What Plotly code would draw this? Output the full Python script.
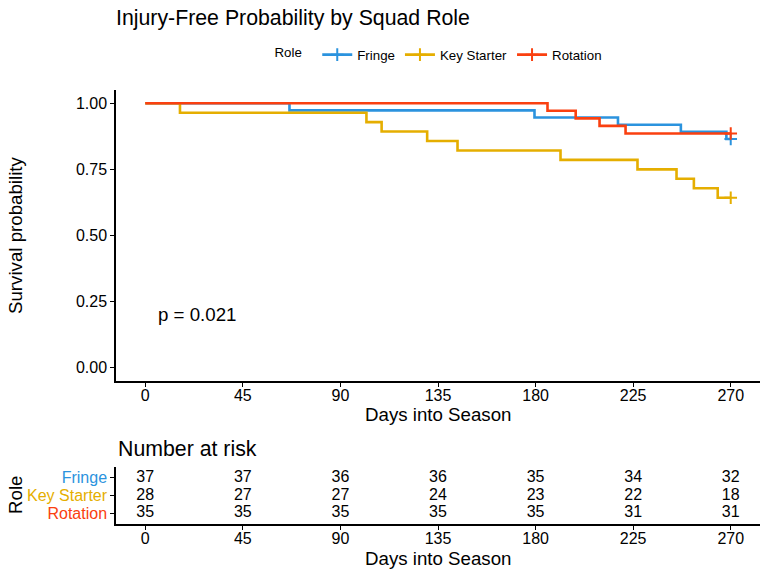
import plotly.graph_objects as go

# ---------------- data ----------------
groups = ["Fringe", "Key Starter", "Rotation"]
colors = ["#2B93DE", "#E5AE00", "#FA4010"]
n_start = [37, 28, 35]
event_times = [
    [66.5, 179.5, 218, 247, 268],
    [16, 102, 109, 130, 144, 191.5, 227, 245, 253, 264],
    [185.5, 198.5, 209.5, 221.5],
]
end_time = 270
risk_times = [0, 45, 90, 135, 180, 225, 270]
risk_counts = [
    [37, 37, 36, 36, 35, 34, 32],
    [28, 27, 27, 24, 23, 22, 18],
    [35, 35, 35, 35, 35, 31, 31],
]
p_text = "p = 0.021"

FONT = "Liberation Sans, Arial, sans-serif"
W, H = 768, 576

def px_x(p):
    return p / W

def px_y(p):
    return 1 - p / H

fig = go.Figure()

# KM step curves
for g, col, n, ev in zip(groups, colors, n_start, event_times):
    xs, ys = [0], [1.0]
    s = 1.0
    at_risk = n
    for t in ev:
        s *= (at_risk - 1) / at_risk
        at_risk -= 1
        xs.append(t)
        ys.append(s)
    xs.append(end_time)
    ys.append(s)
    fig.add_trace(go.Scatter(x=xs, y=ys, mode="lines", line=dict(color=col, width=2.6, shape="hv"),
                             showlegend=False, legendgroup=g, hoverinfo="skip",
                             xaxis="x", yaxis="y"))
    fig.add_trace(go.Scatter(x=[end_time], y=[s], mode="lines+markers", name=g, legendgroup=g,
                             line=dict(color=col, width=2.6),
                             marker=dict(symbol="cross-thin", size=9, color=col,
                                         line=dict(color=col, width=2)),
                             xaxis="x", yaxis="y"))

# risk table
row_y = {"Fringe": 2, "Key Starter": 1, "Rotation": 0}
for g, counts in zip(groups, risk_counts):
    fig.add_trace(go.Scatter(x=risk_times, y=[row_y[g]] * len(risk_times), mode="text",
                             text=[str(c) for c in counts], textposition="middle center",
                             textfont=dict(size=16, color="black", family=FONT),
                             showlegend=False, hoverinfo="skip", xaxis="x2", yaxis="y2"))

axis_common = dict(showgrid=False, zeroline=False, showline=True, linecolor="black", linewidth=1.5,
                   ticks="outside", ticklen=4, tickcolor="black", tickwidth=1.2,
                   tickfont=dict(size=16, color="black", family=FONT), automargin=False)

fig.update_layout(
    width=W, height=H,
    margin=dict(l=0, r=0, t=0, b=0),
    paper_bgcolor="white", plot_bgcolor="white",
    font=dict(family=FONT, color="black"),
    xaxis=dict(domain=[px_x(116), px_x(760)], range=[-13.5, 283.5], anchor="y",
               tickvals=risk_times, ticklabelstandoff=-5, **axis_common),
    yaxis=dict(domain=[px_y(381), px_y(90)], range=[-0.05, 1.05], anchor="x",
               tickvals=[0, 0.25, 0.5, 0.75, 1.0], ticktext=["0.00", "0.25", "0.50", "0.75", "1.00"],
               **axis_common),
    xaxis2=dict(domain=[px_x(116), px_x(760)], range=[-13.5, 283.5], anchor="y2",
                tickvals=risk_times, ticklabelstandoff=-5, **axis_common),
    yaxis2=dict(domain=[px_y(524), px_y(467)], range=[-0.6, 2.6], anchor="x2",
                tickvals=[2, 1, 0],
                ticktext=['<span style="color:%s">%s</span>' % (c, g) for g, c in zip(groups, colors)],
                **axis_common),
    legend=dict(orientation="h", x=px_x(440), xanchor="center", y=px_y(55), yanchor="middle",
                title=dict(text="Role  ", font=dict(size=13.3, family=FONT, color="black"), side="left"),
                font=dict(size=13.3, family=FONT, color="black"), itemwidth=30,
                bgcolor="rgba(0,0,0,0)"),
    title=dict(text="Injury-Free Probability by Squad Role", x=px_x(116), xanchor="left",
               y=px_y(18), yanchor="middle", xref="paper", yref="paper",
               font=dict(size=21.3, family=FONT, color="black")),
    annotations=[
        dict(text="Survival probability", x=px_x(15), y=px_y(236), xref="paper", yref="paper",
             xanchor="center", yanchor="middle",
             textangle=-90, showarrow=False, font=dict(size=18.7)),
        dict(text="Days into Season", x=px_x(438), y=px_y(414), xref="paper", yref="paper",
             xanchor="center", yanchor="middle", showarrow=False, font=dict(size=18.7)),
        dict(text="Number at risk", x=px_x(116), y=px_y(449), xref="paper", yref="paper",
             xanchor="left", yanchor="middle", showarrow=False, font=dict(size=21.3)),
        dict(text="Role", x=px_x(15), y=px_y(495), xref="paper", yref="paper",
             xanchor="center", yanchor="middle",
             textangle=-90, showarrow=False, font=dict(size=18.7)),
        dict(text="Days into Season", x=px_x(438), y=px_y(558), xref="paper", yref="paper",
             xanchor="center", yanchor="middle", showarrow=False, font=dict(size=18.7)),
        dict(text=p_text, x=5, y=0.2, xref="x", yref="y", xanchor="left", yanchor="middle",
             showarrow=False, font=dict(size=18.7)),
    ],
)

fig.write_html("out.html")
